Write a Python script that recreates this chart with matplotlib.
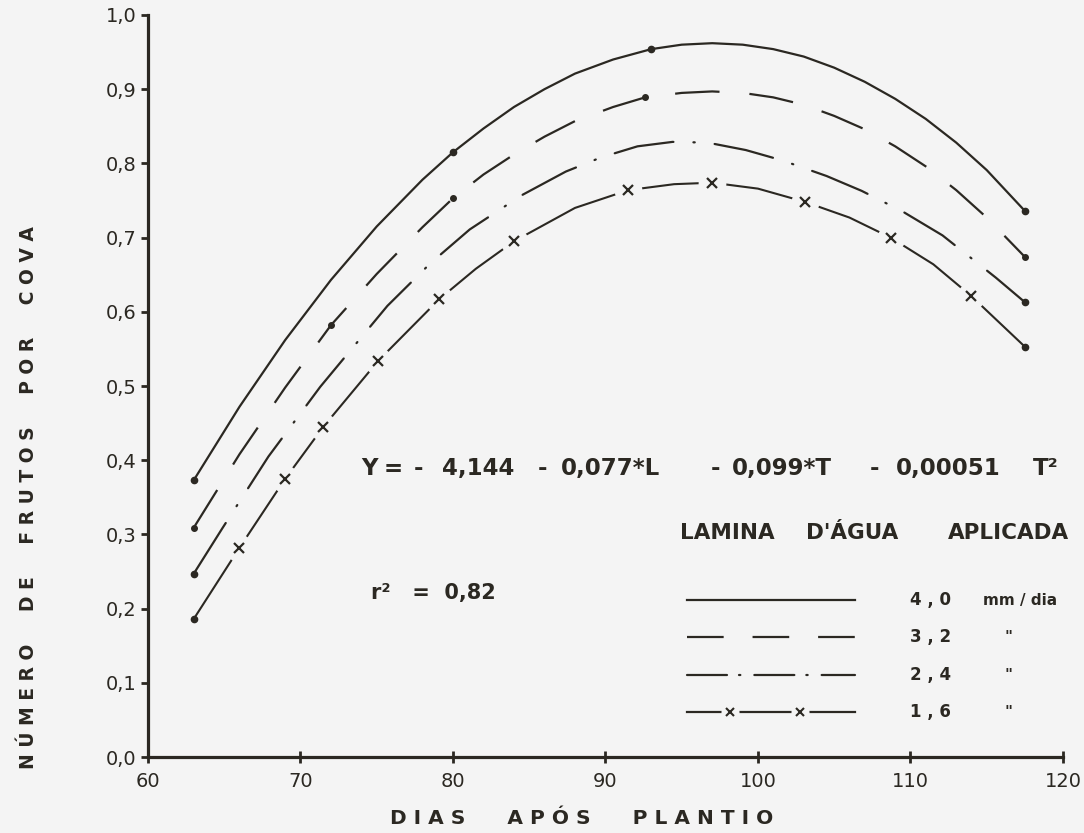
import matplotlib
matplotlib.use("Agg")
import matplotlib.pyplot as plt

# values (dias apos plantio / frutos por cova)
dias_40 = [63, 66, 69, 72, 75, 78, 80, 82, 84, 86, 88, 90.5, 93, 95, 97, 99,
           101, 103, 105, 107, 109, 111, 113, 115, 117.5]
frutos_40 = [0.373, 0.472, 0.562, 0.643, 0.715, 0.778, 0.815, 0.847, 0.876, 0.900,
             0.921, 0.940, 0.954, 0.960, 0.962, 0.960, 0.954, 0.944, 0.929, 0.910,
             0.887, 0.860, 0.828, 0.791, 0.736]

dias_32 = [63, 66, 69, 72, 75, 78, 80, 82, 84, 86, 88, 90.5, 92.6, 95, 97, 99,
           101, 103, 105, 107, 109, 111, 113, 115, 117.5]
frutos_32 = [0.309, 0.408, 0.498, 0.582, 0.651, 0.714, 0.753, 0.785, 0.812, 0.836,
             0.857, 0.876, 0.889, 0.895, 0.897, 0.895, 0.889, 0.879, 0.864, 0.846,
             0.823, 0.796, 0.764, 0.727, 0.674]

dias_24 = [63, 64.9, 67.9, 71.3, 75.7, 78.5, 81.1, 84.5, 87.4, 89.7, 92.1, 94.4,
           96.7, 99.2, 101.6, 104.5, 106.8, 109.5, 112.1, 115.6, 117.5]
frutos_24 = [0.247, 0.309, 0.405, 0.499, 0.608, 0.665, 0.711, 0.757, 0.789, 0.808,
             0.823, 0.829, 0.828, 0.818, 0.804, 0.783, 0.763, 0.735, 0.703, 0.646,
             0.613]

dias_16 = [63, 66.0, 69.0, 71.5, 75.1, 79.1, 81.5, 84.0, 88.0, 91.5, 94.5, 97.0,
           100, 103.1, 106, 108.7, 111.5, 114.0, 117.5]
frutos_16 = [0.186, 0.282, 0.375, 0.445, 0.534, 0.617, 0.658, 0.695, 0.740, 0.764,
             0.772, 0.774, 0.766, 0.748, 0.727, 0.700, 0.664, 0.621, 0.553]

lamina = ["4,0", "3,2", "2,4", "1,6"]
unidade = ["mm / dia", '"', '"', '"']
x_ticks = [60, 70, 80, 90, 100, 110, 120]
y_ticks = [0.0, 0.1, 0.2, 0.3, 0.4, 0.5, 0.6, 0.7, 0.8, 0.9, 1.0]
y_labels = ["0,0", "0,1", "0,2", "0,3", "0,4", "0,5", "0,6", "0,7", "0,8", "0,9", "1,0"]
equacao = ["Y", "=", "-", "4,144", "-", "0,077*L", "-", "0,099*T", "-", "0,00051", "T²"]
titulo = ["LAMINA", "D'ÁGUA", "APLICADA"]

ink = "#2b2822"
bg = "#f4f4f4"
plt.rcParams["font.family"] = ["DejaVu Sans"]


def spaced(text, gap=4):
    return (" " * gap).join(" ".join(w) for w in text.split())


def px_to_ax(px):
    # horizontal pixel of the original sheet -> axes fraction
    return (px - 148) / 915


fig = plt.figure(figsize=(10.84, 8.33), dpi=100, facecolor=bg)
ax = fig.add_axes([0.1365, 0.0912, 0.8441, 0.8908])
ax.set_facecolor(bg)

# 4,0 mm/dia - solid
ax.plot(dias_40, frutos_40, color=ink, lw=1.6, marker="o", ms=4.5,
        markevery=[0, 6, 12, len(dias_40) - 1], zorder=3)
# 3,2 mm/dia - dashed
ax.plot(dias_32, frutos_32, color=ink, lw=1.6, ls=(0, (20, 13.5)), marker="o", ms=4,
        markevery=[0, 3, 6, 12, len(dias_32) - 1], zorder=3)
# 2,4 mm/dia - dash dot
ax.plot(dias_24, frutos_24, color=ink, lw=1.6, ls=(0, (27, 9, 0.6, 9)),
        dash_capstyle="round", marker="o", ms=4.5,
        markevery=[0, len(dias_24) - 1], zorder=3)
# 1,6 mm/dia - line broken by x marks
x_idx = [1, 2, 3, 4, 5, 7, 9, 11, 13, 15, 17]
ax.plot(dias_16, frutos_16, color=ink, lw=1.5, marker="o", ms=4.5,
        markevery=[0, len(dias_16) - 1], zorder=2)
ax.plot(dias_16, frutos_16, linestyle="none", marker="o", markersize=20,
        markerfacecolor=bg, markeredgewidth=0, markevery=x_idx, zorder=2.5)
ax.plot(dias_16, frutos_16, ls="none", marker="x", ms=6.5, mew=1.6, color=ink,
        markevery=x_idx, zorder=2.7)

ax.set_xlim(60, 120)
ax.set_ylim(0, 1.0)
for s in ["top", "right"]:
    ax.spines[s].set_visible(False)
for s in ["left", "bottom"]:
    ax.spines[s].set_linewidth(2.3)
    ax.spines[s].set_color(ink)
ax.set_xticks(x_ticks)
ax.set_xticklabels([str(t) for t in x_ticks])
ax.set_yticks(y_ticks)
ax.set_yticklabels(y_labels)
ax.tick_params(axis="y", direction="out", length=5, width=2, color=ink,
               labelsize=14, labelcolor=ink, pad=3)
ax.tick_params(axis="x", direction="inout", length=9, width=2, color=ink,
               labelsize=14, labelcolor=ink, pad=6)

fig.text(0.026, 0.403, spaced("NÚMERO DE FRUTOS POR COVA", 5), rotation=90,
         ha="center", va="center", fontsize=13.5, fontweight="bold", color=ink)
fig.text(0.537, 0.018, spaced("DIAS APÓS PLANTIO", 6), ha="center", va="center",
         fontsize=14.5, fontweight="bold", color=ink)

eq_px = [361, 384, 414, 442, 538, 561, 711, 732, 870, 896, 1033]
for tok, px in zip(equacao, eq_px):
    ax.text(px_to_ax(px), 0.389, tok, transform=ax.transAxes, ha="left",
            va="center", fontsize=16.5, fontweight="bold", color=ink)
ax.text(0.244, 0.221, "r²   =  0,82", transform=ax.transAxes, ha="left",
        va="center", fontsize=15, fontweight="bold", color=ink)
for tok, px in zip(titulo, [680, 806, 948]):
    ax.text(px_to_ax(px), 0.302, tok, transform=ax.transAxes, ha="left",
            va="center", fontsize=15.5, fontweight="bold", color=ink)

# legend keys drawn by hand
key_x = [0.589, 0.636, 0.7125, 0.773]
key_y = [0.2116, 0.1617, 0.1105, 0.0606]
styles = [dict(ls="-"), dict(ls=(0, (16.5, 13))),
          dict(ls=(0, (18, 5.4, 0.6, 6.3)), dash_capstyle="round"), dict(ls="-")]
for i, st in enumerate(styles):
    ky = [key_y[i]] * len(key_x)
    ax.plot(key_x, ky, color=ink, lw=1.6, transform=ax.transAxes, clip_on=False, **st)
    if i == 3:
        ax.plot(key_x, ky, linestyle="none", marker="o", markersize=13,
                markerfacecolor=bg, markeredgewidth=0, markevery=[1, 2],
                transform=ax.transAxes, clip_on=False, zorder=2.5)
        ax.plot(key_x, ky, ls="none", marker="x", ms=6, mew=1.5, color=ink,
                markevery=[1, 2], transform=ax.transAxes, clip_on=False, zorder=2.7)
    ax.text(0.833, key_y[i], lamina[i].replace(",", " , "), transform=ax.transAxes,
            ha="left", va="center", fontsize=12, fontweight="bold", color=ink)
    if i == 0:
        ax.text(0.913, key_y[i], unidade[i], transform=ax.transAxes, ha="left",
                va="center", fontsize=11, fontweight="bold", color=ink)
    else:
        ax.text(0.940, key_y[i], unidade[i], transform=ax.transAxes, ha="center",
                va="center", fontsize=11, fontweight="bold", color=ink)

fig.savefig("out.png", dpi=100, facecolor=bg)
